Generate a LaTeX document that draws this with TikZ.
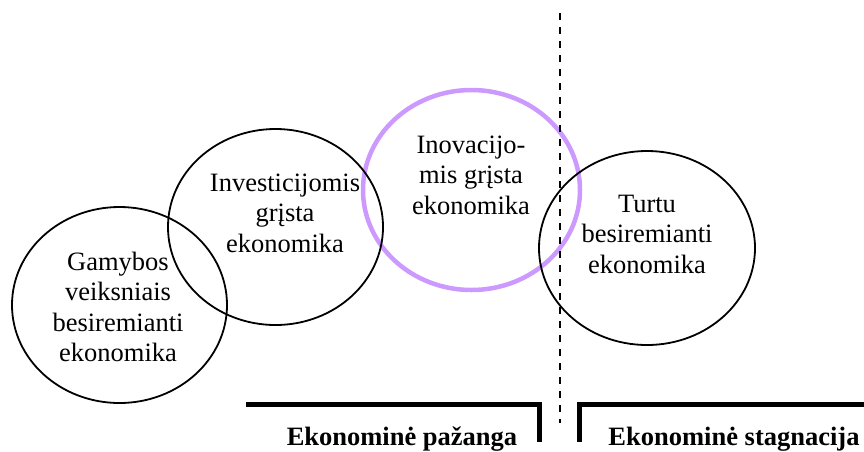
\documentclass[tikz,border=0pt]{standalone}
\usepackage{fontspec}
\setmainfont{Liberation Serif}
\usetikzlibrary{shapes.geometric}
\definecolor{lav}{RGB}{204,153,255}
\begin{document}
\begin{tikzpicture}[x=1pt,y=-1pt,
  oval/.style={ellipse, draw=black, line width=1.8pt, inner sep=0pt, outer sep=0pt},
  lavoval/.style={ellipse, draw=lav, line width=4.5pt, inner sep=0pt, outer sep=0pt},
  lbl/.style={align=center, inner sep=0pt, font=\fontsize{26.5}{30.5}\selectfont},
  tag/.style={inner sep=0pt, anchor=base, font=\fontsize{26.5}{30}\selectfont\bfseries},
  bracket/.style={line width=5pt, line join=miter},
  divider/.style={line width=2pt, dash pattern=on 7pt off 7pt}]
\useasboundingbox (0,0) rectangle (864,451);
% purple circle first
\node[lavoval, minimum width=217pt, minimum height=200pt] (e3) at (471.5,190) {};
% black ellipses
\node[oval, minimum width=215pt, minimum height=196pt] (e1) at (119.5,305) {};
\node[oval, minimum width=215pt, minimum height=196pt] (e2) at (275.5,227) {};
\node[oval, minimum width=216pt, minimum height=194pt] (e4) at (647,248) {};
% texts
\node[lbl] (t1) at (118,307) {Gamybos\\veiksniais\\besiremianti\\ekonomika};
\node[lbl] (t2) at (285,213) {Investicijomis\\grįsta\\ekonomika};
\node[lbl] (t3) at (471,175) {Inovacijo-\\mis grįsta\\ekonomika};
\node[lbl] (t4) at (647,234) {Turtu\\besiremianti\\ekonomika};
% dashed divider
\coordinate (dtop) at (560,13);
\coordinate (dbot) at (560,423);
\draw[divider] (dtop) -- (dbot);
% brackets
\coordinate (la) at (246,404.5);
\coordinate (lb) at (539.5,404.5);
\coordinate (lc) at (539.5,442);
\coordinate (ra) at (579,442);
\coordinate (rb) at (579,404.5);
\coordinate (rc) at (866,404.5);
\draw[bracket] (la) -- (lb) -- (lc);
\draw[bracket] (ra) -- (rb) -- (rc);
% labels
\node[tag] (p1) at (402,445) {Ekonominė pažanga};
\node[tag] (p2) at (734,445) {Ekonominė stagnacija};
\end{tikzpicture}
\end{document}
